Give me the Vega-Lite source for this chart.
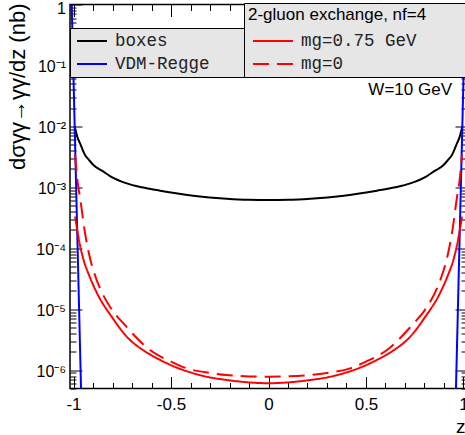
{
  "$schema": "https://vega.github.io/schema/vega-lite/v6.json",
  "width": 397,
  "height": 384,
  "autosize": {"type": "none"},
  "padding": {"left": 70, "top": 4.5, "right": 0, "bottom": 46.5},
  "data": {
    "values": [
      {"s": "boxes", "z": -0.995, "v": 0.0100},
      {"s": "boxes", "z": -0.99, "v": 0.0088},
      {"s": "boxes", "z": -0.981, "v": 0.0068},
      {"s": "boxes", "z": -0.967, "v": 0.0053},
      {"s": "boxes", "z": -0.941, "v": 0.00339},
      {"s": "boxes", "z": -0.92, "v": 0.0028},
      {"s": "boxes", "z": -0.898, "v": 0.00232},
      {"s": "boxes", "z": -0.85, "v": 0.00184},
      {"s": "boxes", "z": -0.813, "v": 0.00153},
      {"s": "boxes", "z": -0.727, "v": 0.00116},
      {"s": "boxes", "z": -0.65, "v": 0.0010},
      {"s": "boxes", "z": -0.556, "v": 0.00088},
      {"s": "boxes", "z": -0.387, "v": 0.00073},
      {"s": "boxes", "z": -0.214, "v": 0.00065},
      {"s": "boxes", "z": -0.1, "v": 0.000625},
      {"s": "boxes", "z": 0, "v": 0.00062},
      {"s": "boxes", "z": 0.1, "v": 0.000625},
      {"s": "boxes", "z": 0.214, "v": 0.00065},
      {"s": "boxes", "z": 0.387, "v": 0.00073},
      {"s": "boxes", "z": 0.556, "v": 0.00088},
      {"s": "boxes", "z": 0.65, "v": 0.0010},
      {"s": "boxes", "z": 0.727, "v": 0.00116},
      {"s": "boxes", "z": 0.813, "v": 0.00153},
      {"s": "boxes", "z": 0.85, "v": 0.00184},
      {"s": "boxes", "z": 0.898, "v": 0.00232},
      {"s": "boxes", "z": 0.92, "v": 0.0028},
      {"s": "boxes", "z": 0.941, "v": 0.00339},
      {"s": "boxes", "z": 0.967, "v": 0.0053},
      {"s": "boxes", "z": 0.981, "v": 0.0068},
      {"s": "boxes", "z": 0.99, "v": 0.0088},
      {"s": "boxes", "z": 0.995, "v": 0.0100},
      {"s": "VDM-Regge", "z": -1.01, "v": 1.31},
      {"s": "VDM-Regge", "z": -1.0, "v": 0.062},
      {"s": "VDM-Regge", "z": -0.99, "v": 0.00295},
      {"s": "VDM-Regge", "z": -0.98, "v": 0.00014},
      {"s": "VDM-Regge", "z": -0.97, "v": 0.0000067},
      {"s": "VDM-Regge", "z": -0.96, "v": 3.2e-7},
      {"s": "VDM-Regge", "z": -0.955, "v": 6.9e-8},
      {"s": "VDM-Regge", "z": 0.955, "v": 6.9e-8},
      {"s": "VDM-Regge", "z": 0.96, "v": 3.2e-7},
      {"s": "VDM-Regge", "z": 0.97, "v": 0.0000067},
      {"s": "VDM-Regge", "z": 0.98, "v": 0.00014},
      {"s": "VDM-Regge", "z": 0.99, "v": 0.00295},
      {"s": "VDM-Regge", "z": 1.0, "v": 0.062},
      {"s": "VDM-Regge", "z": 1.01, "v": 1.31},
      {"s": "mg=0.75 GeV", "z": -0.992, "v": 0.00033},
      {"s": "mg=0.75 GeV", "z": -0.967, "v": 0.000113},
      {"s": "mg=0.75 GeV", "z": -0.948, "v": 0.000064},
      {"s": "mg=0.75 GeV", "z": -0.92, "v": 0.000036},
      {"s": "mg=0.75 GeV", "z": -0.879, "v": 0.0000182},
      {"s": "mg=0.75 GeV", "z": -0.8, "v": 0.0000072},
      {"s": "mg=0.75 GeV", "z": -0.727, "v": 0.00000354},
      {"s": "mg=0.75 GeV", "z": -0.64, "v": 0.0000021},
      {"s": "mg=0.75 GeV", "z": -0.556, "v": 0.00000147},
      {"s": "mg=0.75 GeV", "z": -0.47, "v": 0.0000011},
      {"s": "mg=0.75 GeV", "z": -0.386, "v": 8.9e-7},
      {"s": "mg=0.75 GeV", "z": -0.3, "v": 7.6e-7},
      {"s": "mg=0.75 GeV", "z": -0.214, "v": 6.9e-7},
      {"s": "mg=0.75 GeV", "z": -0.1, "v": 6.3e-7},
      {"s": "mg=0.75 GeV", "z": 0, "v": 6.1e-7},
      {"s": "mg=0.75 GeV", "z": 0.1, "v": 6.3e-7},
      {"s": "mg=0.75 GeV", "z": 0.214, "v": 6.9e-7},
      {"s": "mg=0.75 GeV", "z": 0.3, "v": 7.6e-7},
      {"s": "mg=0.75 GeV", "z": 0.386, "v": 8.9e-7},
      {"s": "mg=0.75 GeV", "z": 0.47, "v": 0.0000011},
      {"s": "mg=0.75 GeV", "z": 0.556, "v": 0.00000147},
      {"s": "mg=0.75 GeV", "z": 0.64, "v": 0.0000021},
      {"s": "mg=0.75 GeV", "z": 0.727, "v": 0.00000354},
      {"s": "mg=0.75 GeV", "z": 0.8, "v": 0.0000072},
      {"s": "mg=0.75 GeV", "z": 0.879, "v": 0.0000182},
      {"s": "mg=0.75 GeV", "z": 0.92, "v": 0.000036},
      {"s": "mg=0.75 GeV", "z": 0.948, "v": 0.000064},
      {"s": "mg=0.75 GeV", "z": 0.967, "v": 0.000113},
      {"s": "mg=0.75 GeV", "z": 0.992, "v": 0.00033},
      {"s": "mg=0", "z": -0.992, "v": 0.0034},
      {"s": "mg=0", "z": -0.98, "v": 0.0013},
      {"s": "mg=0", "z": -0.967, "v": 0.0007},
      {"s": "mg=0", "z": -0.941, "v": 0.000178},
      {"s": "mg=0", "z": -0.92, "v": 0.00008},
      {"s": "mg=0", "z": -0.881, "v": 0.00003},
      {"s": "mg=0", "z": -0.864, "v": 0.000022},
      {"s": "mg=0", "z": -0.8, "v": 0.0000095},
      {"s": "mg=0", "z": -0.745, "v": 0.0000059},
      {"s": "mg=0", "z": -0.608, "v": 0.00000214},
      {"s": "mg=0", "z": -0.5, "v": 0.00000138},
      {"s": "mg=0", "z": -0.419, "v": 0.00000107},
      {"s": "mg=0", "z": -0.3, "v": 9.0e-7},
      {"s": "mg=0", "z": -0.214, "v": 8.3e-7},
      {"s": "mg=0", "z": -0.1, "v": 7.9e-7},
      {"s": "mg=0", "z": 0, "v": 7.8e-7},
      {"s": "mg=0", "z": 0.1, "v": 7.9e-7},
      {"s": "mg=0", "z": 0.214, "v": 8.3e-7},
      {"s": "mg=0", "z": 0.3, "v": 9.0e-7},
      {"s": "mg=0", "z": 0.419, "v": 0.00000107},
      {"s": "mg=0", "z": 0.5, "v": 0.00000138},
      {"s": "mg=0", "z": 0.608, "v": 0.00000214},
      {"s": "mg=0", "z": 0.745, "v": 0.0000059},
      {"s": "mg=0", "z": 0.8, "v": 0.0000095},
      {"s": "mg=0", "z": 0.864, "v": 0.000022},
      {"s": "mg=0", "z": 0.881, "v": 0.00003},
      {"s": "mg=0", "z": 0.92, "v": 0.00008},
      {"s": "mg=0", "z": 0.941, "v": 0.000178},
      {"s": "mg=0", "z": 0.967, "v": 0.0007},
      {"s": "mg=0", "z": 0.98, "v": 0.0013},
      {"s": "mg=0", "z": 0.992, "v": 0.0034}
    ]
  },
  "layer": [
    {
      "transform": [{"filter": "datum.s == 'boxes' || datum.s == 'VDM-Regge'"}],
      "mark": {"type": "line", "clip": true, "strokeWidth": 2, "interpolate": "monotone"},
      "encoding": {
        "x": {
          "field": "z", "type": "quantitative",
          "scale": {"domain": [-1.018, 1.018], "nice": false, "zero": false},
          "axis": {
            "orient": "bottom", "values": [-1, -0.5, 0, 0.5, 1], "tickSize": -12,
            "labelExpr": "'' + datum.value", "labelFontSize": 17, "labelPadding": 19.5,
            "title": "z", "titleFontSize": 19, "titleX": 395, "titleY": 43.5,
            "titleAlign": "right", "titleBaseline": "alphabetic"
          }
        },
        "y": {
          "field": "v", "type": "quantitative",
          "scale": {"type": "log", "domain": [5e-7, 1], "nice": false},
          "axis": {
            "orient": "left", "values": [1, 0.1, 0.01, 0.001, 0.0001, 0.00001, 0.000001], "tickSize": -12,
            "labelExpr": "datum.value > 0.5 ? '1' : datum.value > 0.05 ? '10⁻¹' : datum.value > 0.005 ? '10⁻²' : datum.value > 0.0005 ? '10⁻³' : datum.value > 0.00005 ? '10⁻⁴' : datum.value > 0.000005 ? '10⁻⁵' : '10⁻⁶'",
            "labelFontSize": 16, "labelPadding": 16.5, "labelBaseline": "middle",
            "labelOffset": {"condition": {"test": "datum.value > 0.5", "value": 4}, "value": 1.5},
            "title": "dσγγ→γγ/dz (nb)", "titleFontSize": 22, "titleX": -46, "titleY": -1.5,
            "titleAngle": 270, "titleAlign": "right", "titleBaseline": "alphabetic"
          }
        },
        "color": {
          "field": "s", "type": "nominal",
          "scale": {"domain": ["boxes", "VDM-Regge"], "range": ["#000000", "#0000ff"]},
          "legend": {
            "orient": "none", "legendX": 0, "legendY": 23.5, "title": null,
            "symbolType": "M-1.875,0H1.875", "symbolSize": 256, "symbolOffset": 9, "labelOffset": 14,
            "labelExpr": "datum.label + '\u2800\u2800\u2800'"
          }
        }
      }
    },
    {
      "transform": [{"filter": "datum.s == 'mg=0.75 GeV' || datum.s == 'mg=0'"}],
      "mark": {"type": "line", "clip": true, "strokeWidth": 2, "interpolate": "monotone"},
      "encoding": {
        "x": {
          "field": "z", "type": "quantitative",
          "axis": {
            "orient": "bottom", "values": [-1, -0.9, -0.8, -0.7, -0.6, -0.5, -0.4, -0.3, -0.2, -0.1, 0, 0.1, 0.2, 0.3, 0.4, 0.5, 0.6, 0.7, 0.8, 0.9, 1],
            "tickSize": -6, "labels": false, "title": null
          }
        },
        "y": {
          "field": "v", "type": "quantitative",
          "axis": {
            "orient": "left",
            "values": [5e-7, 6e-7, 7e-7, 8e-7, 9e-7, 2e-6, 3e-6, 4e-6, 5e-6, 6e-6, 7e-6, 8e-6, 9e-6, 2e-5, 3e-5, 4e-5, 5e-5, 6e-5, 7e-5, 8e-5, 9e-5, 2e-4, 3e-4, 4e-4, 5e-4, 6e-4, 7e-4, 8e-4, 9e-4, 2e-3, 3e-3, 4e-3, 5e-3, 6e-3, 7e-3, 8e-3, 9e-3, 2e-2, 3e-2, 4e-2, 5e-2, 6e-2, 7e-2, 8e-2, 9e-2, 0.2, 0.3, 0.4, 0.5, 0.6, 0.7, 0.8, 0.9],
            "tickSize": -6, "labels": false, "title": null
          }
        },
        "color": {
          "field": "s", "type": "nominal",
          "scale": {"domain": ["mg=0.75 GeV", "mg=0"], "range": ["#ff0000", "#ff0000"]},
          "legend": {
            "orient": "none", "legendX": 174, "legendY": -1.5, "title": "2-gluon exchange, nf=4",
            "symbolType": "M-2.5,0H2.5", "symbolSize": 256, "symbolOffset": 16, "labelOffset": 19,
            "labelExpr": "datum.label + '\u2800\u2800\u2800\u2800\u2800'"
          }
        },
        "strokeDash": {
          "field": "s", "type": "nominal",
          "scale": {"domain": ["mg=0.75 GeV", "mg=0"], "range": [[1, 0], [16, 8]]},
          "legend": {
            "orient": "none", "legendX": 174, "legendY": -1.5, "title": "2-gluon exchange, nf=4",
            "symbolType": "M-2.5,0H2.5", "symbolSize": 256, "symbolOffset": 16, "labelOffset": 19,
            "labelExpr": "datum.label + '\u2800\u2800\u2800\u2800\u2800'"
          }
        }
      }
    },
    {
      "mark": {"type": "point", "opacity": 0},
      "encoding": {
        "x": {
          "field": "z", "type": "quantitative",
          "axis": {"orient": "top", "values": [-1, -0.5, 0, 0.5, 1], "tickSize": -12, "labels": false, "title": null}
        },
        "y": {
          "field": "v", "type": "quantitative",
          "axis": {"orient": "right", "values": [1, 0.1, 0.01, 0.001, 0.0001, 0.00001, 0.000001], "tickSize": -12, "labels": false, "title": null}
        }
      }
    },
    {
      "data": {"values": [{"note": "W=10 GeV"}]},
      "mark": {"type": "text", "align": "right", "baseline": "middle", "font": "Liberation Sans", "fontSize": 17, "color": "#000000"},
      "encoding": {
        "x": {
          "datum": 0.941, "type": "quantitative",
          "axis": {
            "orient": "top", "values": [-1, -0.9, -0.8, -0.7, -0.6, -0.5, -0.4, -0.3, -0.2, -0.1, 0, 0.1, 0.2, 0.3, 0.4, 0.5, 0.6, 0.7, 0.8, 0.9, 1],
            "tickSize": -6, "labels": false, "title": null
          }
        },
        "y": {
          "datum": 0.0395, "type": "quantitative",
          "axis": {
            "orient": "right",
            "values": [5e-7, 6e-7, 7e-7, 8e-7, 9e-7, 2e-6, 3e-6, 4e-6, 5e-6, 6e-6, 7e-6, 8e-6, 9e-6, 2e-5, 3e-5, 4e-5, 5e-5, 6e-5, 7e-5, 8e-5, 9e-5, 2e-4, 3e-4, 4e-4, 5e-4, 6e-4, 7e-4, 8e-4, 9e-4, 2e-3, 3e-3, 4e-3, 5e-3, 6e-3, 7e-3, 8e-3, 9e-3, 2e-2, 3e-2, 4e-2, 5e-2, 6e-2, 7e-2, 8e-2, 9e-2, 0.2, 0.3, 0.4, 0.5, 0.6, 0.7, 0.8, 0.9],
            "tickSize": -6, "labels": false, "title": null
          }
        },
        "text": {"field": "note", "type": "nominal"}
      }
    }
  ],
  "resolve": {
    "scale": {"color": "independent", "strokeDash": "independent"},
    "axis": {"x": "independent", "y": "independent"},
    "legend": {"color": "independent", "strokeDash": "independent"}
  },
  "config": {
    "view": {"stroke": "#000000", "strokeWidth": 1.5},
    "axis": {
      "domain": false, "grid": false, "tickColor": "#000000", "tickWidth": 1,
      "labelFont": "Liberation Sans", "labelColor": "#000000",
      "titleFont": "Liberation Sans", "titleColor": "#000000", "titleFontWeight": "normal",
      "labelFlush": false, "labelOverlap": false
    },
    "legend": {
      "fillColor": "#e6e6e6", "strokeColor": "#000000", "padding": 4,
      "symbolStrokeWidth": 2,
      "labelFont": "Liberation Mono", "labelFontSize": 17.5, "labelColor": "#222222",
      "labelLimit": 0, "rowPadding": 5,
      "titleFont": "Liberation Sans", "titleFontSize": 17, "titleFontWeight": "normal",
      "titleColor": "#000000", "titleLimit": 0, "titlePadding": 8
    }
  }
}
